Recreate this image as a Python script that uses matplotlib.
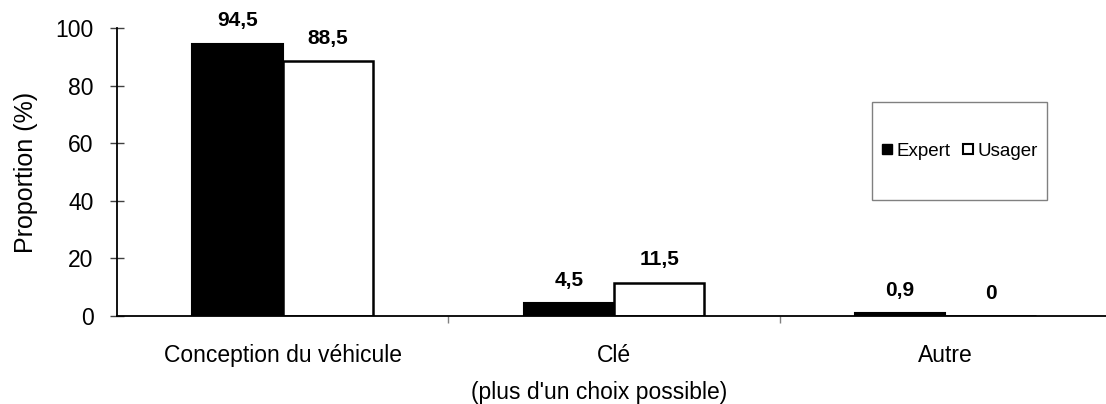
import matplotlib
matplotlib.use("Agg")
import matplotlib.pyplot as plt
import numpy as np
from matplotlib.lines import Line2D
from matplotlib.patches import Rectangle

plt.rcParams['font.family'] = ['Liberation Sans', 'DejaVu Sans']

categories = ["Conception du véhicule", "Clé", "Autre"]
expert = [94.5, 4.5, 0.9]
usager = [88.5, 11.5, 0]
expert_labels = ["94,5", "4,5", "0,9"]
usager_labels = ["88,5", "11,5", "0"]

fig = plt.figure(figsize=(11.06, 4.04), dpi=100)
ax = fig.add_axes([117/1106, 88/404, 994/1106, 288/404])

x = np.arange(len(categories))
w = 0.273
b1 = ax.bar(x - w/2, expert, w, color='black', edgecolor='black', linewidth=1.5)
b2 = ax.bar(x + w/2, usager, w, color='white', edgecolor='black', linewidth=1.8)

# value labels above the bars
for bars, labels in ((b1, expert_labels), (b2, usager_labels)):
    for rect, lab in zip(bars, labels):
        ax.annotate(lab, (rect.get_x() + rect.get_width()/2, rect.get_height()),
                    xytext=(0, 16.5), textcoords='offset points',
                    ha='center', va='center', fontsize=15, fontweight='bold')

ax.set_xlim(-0.5, 2.5)
ax.set_ylim(0, 100)
ax.set_yticks(np.arange(0, 101, 20))
ax.tick_params(axis='y', direction='inout', length=10, width=1, color='#404040',
               labelsize=16.5, pad=12)

# category boundaries as ticks, names on minor ticks
ax.set_xticks([0.5, 1.5])
ax.set_xticklabels([])
ax.tick_params(axis='x', which='major', direction='out', length=5, width=1, color='#808080')
ax.set_xticks(x, minor=True)
ax.set_xticklabels(categories, minor=True)
ax.tick_params(axis='x', which='minor', length=0, labelsize=16.5, pad=20)

for s in ('top', 'right'):
    ax.spines[s].set_visible(False)
for s in ('left', 'bottom'):
    ax.spines[s].set_linewidth(1.3)
    ax.spines[s].set_color('black')

ax.set_ylabel("Proportion (%)", fontsize=18, labelpad=12)
fig.text(599/1106, 1 - 393/404, "(plus d'un choix possible)", ha='center', va='center', fontsize=16.5)

# legend box
fig.patches.append(Rectangle((872/1106, 1 - 200/404), 175/1106, 98/404,
                             transform=fig.transFigure, facecolor='white',
                             edgecolor='#808080', linewidth=1))
handles = [Line2D([], [], marker='s', linestyle='none', markersize=7.5,
                  markerfacecolor='black', markeredgecolor='black'),
           Line2D([], [], marker='s', linestyle='none', markersize=7,
                  markerfacecolor='white', markeredgecolor='black', markeredgewidth=1.5)]
fig.legend(handles, ["Expert", "Usager"], loc='center', bbox_to_anchor=(959/1106, 1 - 151/404),
           ncol=2, frameon=False, fontsize=13.5, handlelength=0.7, handletextpad=0.15,
           columnspacing=0.6, borderpad=0)

fig.savefig("out.png", dpi=100)
